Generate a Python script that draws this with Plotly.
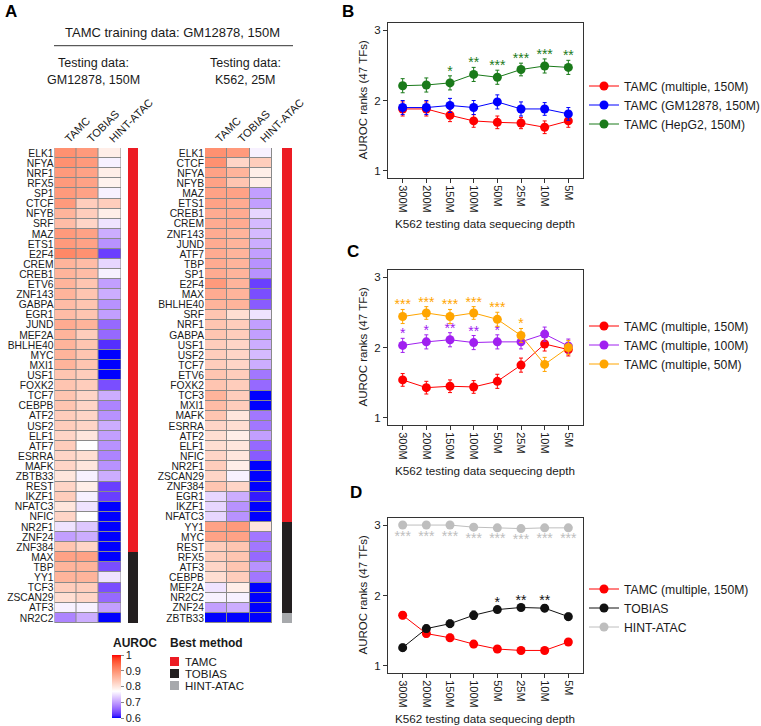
import plotly.graph_objects as go

# ---------------- DATA ----------------
methods = ["TAMC", "TOBIAS", "HINT-ATAC"]

tf_gm = ["ELK1","NFYA","NRF1","RFX5","SP1","CTCF","NFYB","SRF","MAZ","ETS1","E2F4","CREM","CREB1",
         "ETV6","ZNF143","GABPA","EGR1","JUND","MEF2A","BHLHE40","MYC","MXI1","USF1","FOXK2","TCF7",
         "CEBPB","ATF2","USF2","ELF1","ATF7","ESRRA","MAFK","ZBTB33","REST","IKZF1","NFATC3","NFIC",
         "NR2F1","ZNF24","ZNF384","MAX","TBP","YY1","TCF3","ZSCAN29","ATF3","NR2C2"]
gm_tamc  = [0.90,0.90,0.89,0.89,0.89,0.89,0.86,0.85,0.89,0.89,0.91,0.86,0.86,0.86,0.86,0.85,0.85,0.87,
            0.86,0.86,0.86,0.86,0.84,0.84,0.84,0.84,0.83,0.83,0.82,0.83,0.82,0.82,0.80,0.82,0.83,0.80,
            0.82,0.75,0.70,0.84,0.88,0.86,0.86,0.83,0.81,0.76,0.68]
gm_tobias= [0.89,0.89,0.88,0.88,0.88,0.83,0.83,0.82,0.88,0.88,0.90,0.85,0.85,0.84,0.84,0.84,0.84,0.86,
            0.83,0.84,0.84,0.84,0.83,0.83,0.82,0.82,0.82,0.82,0.80,0.77,0.81,0.80,0.76,0.79,0.76,0.75,
            0.77,0.73,0.71,0.82,0.88,0.86,0.86,0.83,0.82,0.76,0.71]
gm_hint  = [0.79,0.76,0.79,0.785,0.76,0.83,0.79,0.75,0.71,0.69,0.63,0.74,0.76,0.70,0.71,0.69,0.70,0.66,
            0.66,0.62,0.60,0.60,0.60,0.64,0.71,0.68,0.69,0.71,0.70,0.69,0.68,0.69,0.71,0.63,0.63,0.60,
            0.60,0.60,0.60,0.60,0.60,0.64,0.75,0.64,0.66,0.70,0.60]
gm_best = ["TAMC"] * 40 + ["TOBIAS"] * 7

tf_k562 = ["ELK1","CTCF","NFYA","NFYB","MAZ","ETS1","CREB1","CREM","ZNF143","JUND","ATF7","TBP","SP1",
           "E2F4","MAX","BHLHE40","SRF","NRF1","GABPA","USF1","USF2","TCF7","ETV6","FOXK2","TCF3","MXI1",
           "MAFK","ESRRA","ATF2","ELF1","NFIC","NR2F1","ZSCAN29","ZNF384","EGR1","IKZF1","NFATC3","YY1",
           "MYC","REST","RFX5","ATF3","CEBPB","MEF2A","NR2C2","ZNF24","ZBTB33"]
k_tamc  = [0.90,0.90,0.88,0.88,0.88,0.88,0.87,0.87,0.87,0.87,0.87,0.87,0.87,0.89,0.87,0.86,0.84,0.84,
           0.84,0.83,0.83,0.83,0.84,0.84,0.86,0.85,0.84,0.82,0.81,0.81,0.82,0.83,0.82,0.84,0.74,0.74,
           0.74,0.88,0.88,0.83,0.83,0.82,0.81,0.75,0.76,0.70,0.60]
k_tobias= [0.89,0.82,0.86,0.84,0.88,0.87,0.87,0.87,0.86,0.86,0.86,0.86,0.86,0.86,0.86,0.86,0.81,0.83,
           0.83,0.82,0.82,0.82,0.83,0.83,0.83,0.83,0.80,0.81,0.79,0.80,0.80,0.79,0.76,0.82,0.71,0.69,
           0.69,0.89,0.88,0.84,0.84,0.84,0.83,0.79,0.76,0.71,0.60]
k_hint  = [0.76,0.83,0.79,0.79,0.70,0.70,0.74,0.72,0.72,0.71,0.70,0.69,0.69,0.63,0.64,0.65,0.75,0.70,
           0.70,0.71,0.72,0.71,0.67,0.66,0.60,0.60,0.67,0.67,0.70,0.66,0.65,0.60,0.60,0.60,0.61,0.60,
           0.60,0.80,0.67,0.67,0.66,0.69,0.67,0.60,0.60,0.60,0.60]
k_best = ["TAMC"] * 37 + ["TOBIAS"] * 9 + ["HINT-ATAC"]

depths = ["300M","200M","150M","100M","50M","25M","10M","5M"]

B_multi = [1.88,1.88,1.79,1.71,1.69,1.68,1.62,1.71]
B_multi_err = [0.10,0.10,0.09,0.09,0.09,0.08,0.09,0.09]
B_gm = [1.90,1.90,1.93,1.90,1.98,1.88,1.88,1.81]
B_gm_err = [0.10,0.10,0.10,0.10,0.10,0.10,0.09,0.09]
B_hepg2 = [2.21,2.22,2.25,2.37,2.33,2.44,2.49,2.47]
B_hepg2_err = [0.10,0.10,0.10,0.10,0.10,0.09,0.10,0.10]
B_hepg2_stars = ["","","*","**","***","***","***","**"]

C_150 = [1.54,1.43,1.45,1.44,1.52,1.75,2.05,1.97]
C_150_err = [0.09,0.09,0.09,0.09,0.10,0.10,0.10,0.09]
C_100 = [2.03,2.08,2.11,2.07,2.08,2.08,2.19,2.02]
C_100_err = [0.10,0.10,0.10,0.10,0.10,0.10,0.10,0.10]
C_50 = [2.44,2.49,2.44,2.49,2.40,2.17,1.76,2.00]
C_50_err = [0.10,0.09,0.10,0.09,0.10,0.10,0.10,0.10]
C_100_stars = ["*","*","**","**","*","","",""]
C_50_stars = ["***","***","***","***","***","*","",""]

D_tamc = [1.72,1.46,1.40,1.31,1.24,1.22,1.22,1.34]
D_tamc_err = [0.05,0.05,0.05,0.05,0.05,0.04,0.04,0.05]
D_tobias = [1.26,1.53,1.60,1.72,1.80,1.83,1.82,1.70]
D_tobias_err = [0.05,0.05,0.05,0.06,0.04,0.04,0.05,0.05]
D_hint = [3.00,3.00,3.00,2.97,2.96,2.95,2.96,2.96]
D_tobias_stars = ["","","","","*","**","**",""]
D_hint_stars = ["***"] * 8

# ---------------- HELPERS ----------------
W, H = 761, 726
FONT = "Liberation Sans, Arial, sans-serif"
TXT = "#1a1a1a"

def fx(x):
    return x / W

def fy(y):
    return 1 - y / H

def dom_x(a, b):
    return [fx(a), fx(b)]

def dom_y(top, bottom):
    return [fy(bottom), fy(top)]

def _lin(c):
    c = c / 255.0
    return c / 12.92 if c <= 0.04045 else ((c + 0.055) / 1.055) ** 2.4

def _gam(c):
    c = 12.92 * c if c <= 0.0031308 else 1.055 * c ** (1 / 2.4) - 0.055
    return max(0, min(255, round(c * 255)))

def rgb2lab(rgb):
    r, g, b = [_lin(v) for v in rgb]
    X = (0.4124 * r + 0.3576 * g + 0.1805 * b) / 0.95047
    Y = (0.2126 * r + 0.7152 * g + 0.0722 * b)
    Z = (0.0193 * r + 0.1192 * g + 0.9505 * b) / 1.08883
    f = lambda t: t ** (1 / 3) if t > 0.008856 else 7.787 * t + 16 / 116
    fx_, fy_, fz_ = f(X), f(Y), f(Z)
    return (116 * fy_ - 16, 500 * (fx_ - fy_), 200 * (fy_ - fz_))

def lab2rgb(lab):
    L, a, b = lab
    fy_ = (L + 16) / 116
    fx_ = fy_ + a / 500
    fz_ = fy_ - b / 200
    finv = lambda t: t ** 3 if t ** 3 > 0.008856 else (t - 16 / 116) / 7.787
    X, Y, Z = finv(fx_) * 0.95047, finv(fy_), finv(fz_) * 1.08883
    r = 3.2406 * X - 1.5372 * Y - 0.4986 * Z
    g = -0.9689 * X + 1.8758 * Y + 0.0415 * Z
    bb = 0.0557 * X - 0.2040 * Y + 1.0570 * Z
    return (_gam(max(r, 0)), _gam(max(g, 0)), _gam(max(bb, 0)))

def lab_scale(zmin, zmid, zmax, c0, c1, c2, n=12):
    out = []
    l0, l1, l2 = rgb2lab(c0), rgb2lab(c1), rgb2lab(c2)
    for seg, (la, lb, va, vb) in enumerate([(l0, l1, zmin, zmid), (l1, l2, zmid, zmax)]):
        for i in range(n + 1):
            if seg == 1 and i == 0:
                continue
            t = i / n
            lab = tuple(la[k] + (lb[k] - la[k]) * t for k in range(3))
            v = va + (vb - va) * t
            r, g, b = lab2rgb(lab)
            out.append([(v - zmin) / (zmax - zmin), f"rgb({r},{g},{b})"])
    out[-1][0] = 1.0
    return out

CS = lab_scale(0.6, 0.77, 1.0, (0, 0, 255), (255, 255, 255), (255, 0, 0))

BEST_COL = {"TAMC": "#EC1C24", "TOBIAS": "#231F20", "HINT-ATAC": "#A7A9AC"}
best_codes = {"TAMC": 0, "TOBIAS": 1, "HINT-ATAC": 2}
BEST_CS = [[0, BEST_COL["TAMC"]], [0.33, BEST_COL["TAMC"]], [0.33, BEST_COL["TOBIAS"]],
           [0.67, BEST_COL["TOBIAS"]], [0.67, BEST_COL["HINT-ATAC"]], [1, BEST_COL["HINT-ATAC"]]]

fig = go.Figure()

# ---------------- HEATMAPS ----------------
HM_TOP, HM_BOT = 148, 623
n = len(tf_gm)

fig.add_trace(go.Heatmap(
    z=[[a, b, c] for a, b, c in zip(gm_tamc, gm_tobias, gm_hint)],
    x=methods, y=list(range(n)), xaxis="x", yaxis="y",
    colorscale=CS, zmin=0.6, zmax=1.0, xgap=1, ygap=1,
    showscale=True,
    colorbar=dict(x=fx(112), xanchor="left", y=fy(655), yanchor="top",
                  lenmode="pixels", len=63, thickness=9, thicknessmode="pixels",
                  xpad=0, ypad=0, outlinewidth=0,
                  tickvals=[0.6, 0.7, 0.8, 0.9, 1.0], ticktext=["0.6", "0.7", "0.8", "0.9", "1"],
                  ticks="outside", ticklen=3, tickcolor="#888",
                  tickfont=dict(family=FONT, size=11, color=TXT)),
    hoverinfo="skip"))
fig.add_trace(go.Heatmap(
    z=[[a, b, c] for a, b, c in zip(k_tamc, k_tobias, k_hint)],
    x=methods, y=list(range(n)), xaxis="x2", yaxis="y2",
    colorscale=CS, zmin=0.6, zmax=1.0, xgap=1, ygap=1, showscale=False, hoverinfo="skip"))
fig.add_trace(go.Heatmap(
    z=[[best_codes[b]] for b in gm_best], x=[0], y=list(range(n)), xaxis="x3", yaxis="y3",
    colorscale=BEST_CS, zmin=0, zmax=2, showscale=False, hoverinfo="skip"))
fig.add_trace(go.Heatmap(
    z=[[best_codes[b]] for b in k_best], x=[0], y=list(range(n)), xaxis="x4", yaxis="y4",
    colorscale=BEST_CS, zmin=0, zmax=2, showscale=False, hoverinfo="skip"))

hm_xaxis = dict(range=[-0.5, 2.5], side="top", tickangle=-45, showgrid=False, zeroline=False,
                ticks="", showline=False, tickfont=dict(family=FONT, size=11, color=TXT),
                fixedrange=True)
hm_yaxis = dict(range=[n - 0.5, -0.5], showgrid=False, zeroline=False, ticks="", showline=False,
                tickvals=list(range(n)), tickfont=dict(family=FONT, size=10.3, color=TXT),
                ticklabelstandoff=0)
bar_x = dict(visible=False, range=[-0.5, 0.5])
bar_y = dict(visible=False, range=[n - 0.5, -0.5])

fig.update_layout(
    xaxis=dict(hm_xaxis, domain=dom_x(54.5, 121), anchor="y"),
    yaxis=dict(hm_yaxis, domain=dom_y(HM_TOP, HM_BOT), anchor="x", ticktext=tf_gm),
    xaxis2=dict(hm_xaxis, domain=dom_x(205, 272), anchor="y2"),
    yaxis2=dict(hm_yaxis, domain=dom_y(HM_TOP, HM_BOT), anchor="x2", ticktext=tf_k562),
    xaxis3=dict(bar_x, domain=dom_x(128, 138), anchor="y3"),
    yaxis3=dict(bar_y, domain=dom_y(HM_TOP, HM_BOT), anchor="x3"),
    xaxis4=dict(bar_x, domain=dom_x(282, 292), anchor="y4"),
    yaxis4=dict(bar_y, domain=dom_y(HM_TOP, HM_BOT), anchor="x4"),
)

shapes = []
for xr, yr in [("x", "y"), ("x2", "y2")]:
    shapes.append(dict(type="rect", xref=xr, yref=yr, x0=-0.5, x1=2.5, y0=-0.5, y1=n - 0.5,
                       fillcolor="#8a8a8a", line=dict(color="#8a8a8a", width=1), layer="below"))
# title underline
shapes.append(dict(type="line", xref="paper", yref="paper", x0=fx(54), x1=fx(293),
                   y0=fy(45.7), y1=fy(45.7), line=dict(color="#333", width=1)))
# best-method legend squares
for i, m in enumerate(["TAMC", "TOBIAS", "HINT-ATAC"]):
    top = 657 + 12 * i
    shapes.append(dict(type="rect", xref="paper", yref="paper", x0=fx(170), x1=fx(179),
                       y0=fy(top + 9), y1=fy(top), fillcolor=BEST_COL[m], line=dict(width=0)))

annotations = []
def ann(text, x, y, size=11, bold=False, xanchor="center", yanchor="middle", angle=0, color=TXT):
    t = f"<b>{text}</b>" if bold else text
    annotations.append(dict(text=t, x=fx(x), y=fy(y), xref="paper", yref="paper", showarrow=False,
                            xanchor=xanchor, yanchor=yanchor, textangle=angle,
                            font=dict(family=FONT, size=size, color=color)))

ann("A", 3, 12, size=17, bold=True, xanchor="left", color="#000")
ann("B", 340, 12, size=17, bold=True, xanchor="left", color="#000")
ann("C", 345, 252, size=17, bold=True, xanchor="left", color="#000")
ann("D", 348, 492, size=17, bold=True, xanchor="left", color="#000")
ann("TAMC training data: GM12878, 150M", 172, 33, size=13)
ann("Testing data:", 93, 63, size=12.5)
ann("GM12878, 150M", 93, 80, size=12.5)
ann("Testing data:", 245, 63, size=12.5)
ann("K562, 25M", 245, 80, size=12.5)
ann("AUROC", 111, 643, size=12, bold=True, xanchor="left")
ann("Best method", 168, 643, size=12, bold=True, xanchor="left")
for i, m in enumerate(["TAMC", "TOBIAS", "HINT-ATAC"]):
    ann(m, 183, 662 + 12 * i, size=11.5, xanchor="left")

# ---------------- LINE PANELS ----------------
panels = [
    ("x5", "y5", 23, 178, "legend", 105,
     [("TAMC (multiple, 150M)", B_multi, B_multi_err, "#FF0000", None),
      ("TAMC (GM12878, 150M)", B_gm, B_gm_err, "#0000FF", None),
      ("TAMC (HepG2, 150M)", B_hepg2, B_hepg2_err, "#1A7A1A", B_hepg2_stars)]),
    ("x6", "y6", 270, 425, "legend2", 345,
     [("TAMC (multiple, 150M)", C_150, C_150_err, "#FF0000", None),
      ("TAMC (multiple, 100M)", C_100, C_100_err, "#A020F0", C_100_stars),
      ("TAMC (multiple, 50M)", C_50, C_50_err, "#FFA500", C_50_stars)]),
    ("x7", "y7", 518, 673, "legend3", 608,
     [("TAMC (multiple, 150M)", D_tamc, D_tamc_err, "#FF0000", None),
      ("TOBIAS", D_tobias, D_tobias_err, "#111111", D_tobias_stars),
      ("HINT-ATAC", D_hint, [0] * 8, "#BEBEBE", None)]),
]

for xa, ya, top, bot, lg, lgy, series in panels:
    for name, vals, errs, col, stars in series:
        fig.add_trace(go.Scatter(
            x=depths, y=vals, mode="lines+markers", name=name, xaxis=xa, yaxis=ya, legend=lg,
            line=dict(color=col, width=1), marker=dict(color=col, size=9),
            error_y=dict(type="data", array=errs, color=col, thickness=1, width=2),
            hoverinfo="skip"))
        if stars:
            fig.add_trace(go.Scatter(
                x=depths, y=[v + e + 0.05 for v, e in zip(vals, errs)], mode="text", text=stars,
                textposition="middle center", xaxis=xa, yaxis=ya, showlegend=False,
                textfont=dict(family=FONT, size=14, color=col), hoverinfo="skip"))
    xk = xa.replace("x", "xaxis")
    yk = ya.replace("y", "yaxis")
    fig.layout[xk] = dict(domain=dom_x(388, 583), anchor=ya, range=[-0.62, 7.62], type="category",
                          categoryorder="array", categoryarray=depths,
                          tickangle=90, ticks="outside", ticklen=4, tickcolor="#333",
                          showline=True, linecolor="#333", linewidth=1, mirror=True,
                          showgrid=False, zeroline=False,
                          tickfont=dict(family=FONT, size=11, color=TXT))
    fig.layout[yk] = dict(domain=dom_y(top, bot), anchor=xa, range=[0.9, 3.1],
                          tickvals=[1, 2, 3], ticks="outside", ticklen=4, tickcolor="#333",
                          showline=True, linecolor="#333", linewidth=1, mirror=True,
                          showgrid=False, zeroline=False,
                          tickfont=dict(family=FONT, size=11.5, color=TXT))
    fig.layout[lg] = dict(x=fx(584), y=fy(lgy), xanchor="left", yanchor="middle",
                          font=dict(family=FONT, size=12.2, color=TXT), bgcolor="rgba(0,0,0,0)",
                          itemwidth=30, tracegroupgap=0)
    ann("AUROC ranks (47 TFs)", 362, (top + bot) / 2, size=11.5, angle=-90)
    ann("K562 testing data sequecing depth", 485, bot + 45, size=11.7)

# grey stars below HINT-ATAC points in D
fig.add_trace(go.Scatter(
    x=depths, y=[v - 0.17 for v in D_hint], mode="text", text=D_hint_stars,
    textposition="middle center", xaxis="x7", yaxis="y7", showlegend=False,
    textfont=dict(family=FONT, size=14, color="#BEBEBE"), hoverinfo="skip"))

fig.update_layout(
    width=W, height=H, autosize=False,
    margin=dict(l=0, r=0, t=0, b=0, pad=0, autoexpand=False),
    paper_bgcolor="white", plot_bgcolor="white",
    font=dict(family=FONT, color=TXT),
    shapes=shapes, annotations=annotations,
)

# remove the default 8px page margin so the 761x726 figure fills the window exactly
fig.write_html("out.html", config={"displayModeBar": False},
               post_script="document.body.style.margin='0';document.body.style.overflow='hidden';")
